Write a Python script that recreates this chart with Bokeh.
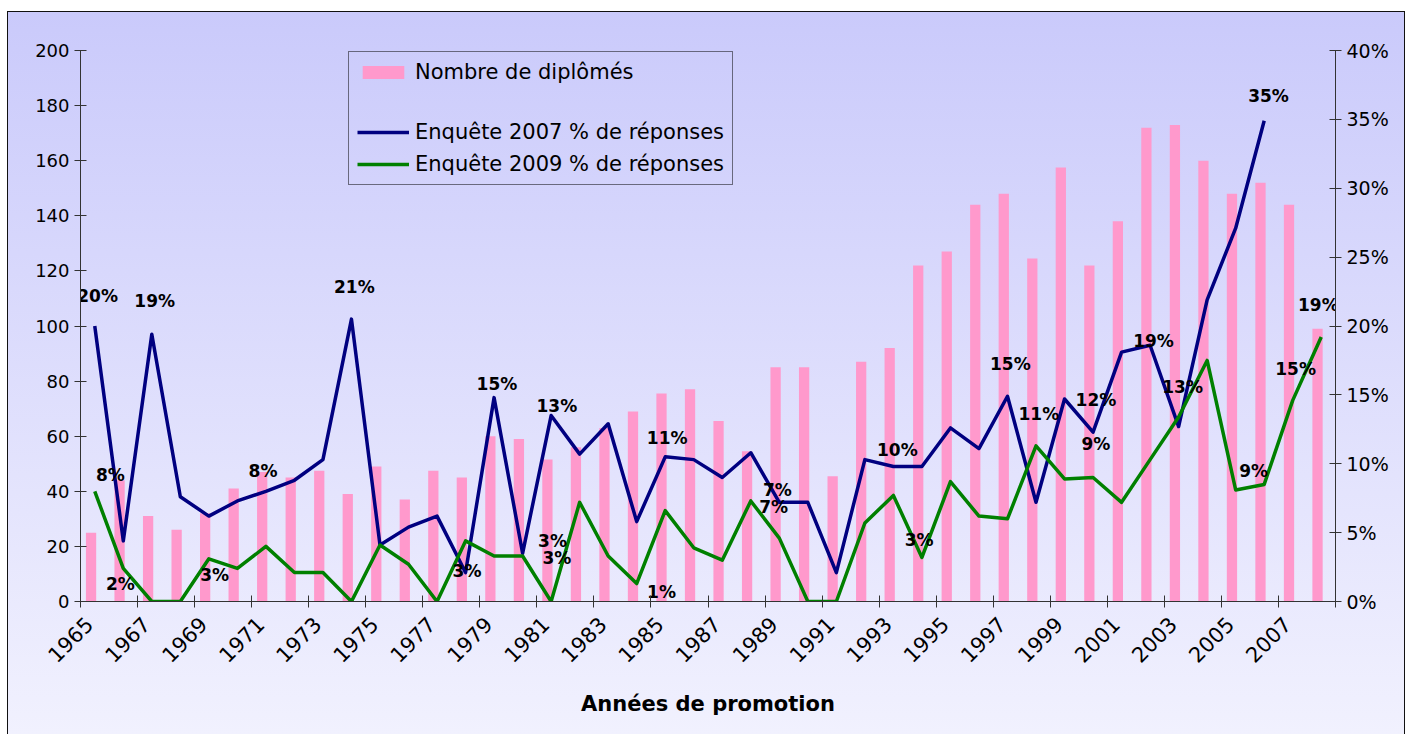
from math import pi
from bokeh.plotting import figure
from bokeh.models import (Range1d, LinearAxis, FixedTicker, PrintfTickFormatter,
                          CustomJSTickFormatter, Legend, LegendItem, ColumnDataSource)
from bokeh.transform import dodge
from bokeh.embed import file_html
from bokeh.resources import INLINE
from bokeh.core.properties import value

# ---------------- data ----------------
years = list(range(1965, 2009))
graduates = [25, 44, 31, 26, 32, 41, 47, 45, 47.5, 39, 49, 37, 47.5, 45,
             60, 59, 51.5, 56, 63, 69, 75.5, 77, 65.5, 54.5, 85, 85, 45.5, 87, 92,
             122, 127, 144, 148, 124.5, 157.5, 122, 138, 172, 173, 160, 148, 152, 144, 99]

years_2007 = list(range(1965, 2007))
survey_2007 = [20.0, 4.4, 19.4, 7.6, 6.2, 7.3, 8.0, 8.8, 10.3, 20.5,
               4.1, 5.4, 6.2, 2.1, 14.8, 3.5, 13.5, 10.7, 12.9, 5.8,
               10.5, 10.3, 9.0, 10.8, 7.2, 7.2, 2.1, 10.3, 9.8, 9.8,
               12.6, 11.1, 14.9, 7.2, 14.7, 12.3, 18.1, 18.6, 12.7, 21.9,
               27.1, 34.9]

years_2009 = list(range(1965, 2009))
survey_2009 = [8.0, 2.4, 0, 0, 3.1, 2.4, 4.0, 2.1, 2.1, 0,
               4.1, 2.7, 0, 4.4, 3.3, 3.3, 0, 7.2, 3.3, 1.3,
               6.6, 3.9, 3.0, 7.3, 4.6, 0, 0, 5.7, 7.7, 3.2,
               8.7, 6.2, 6.0, 11.3, 8.9, 9.0, 7.2, 10.3, 13.4, 17.5,
               8.1, 8.5, 14.6, 19.2]

# data labels shown on the chart (text and where they sit)
label_text = ["20%", "8%", "2%", "19%", "3%", "8%", "21%", "3%", "15%", "13%",
              "3%", "3%", "11%", "1%", "7%", "7%", "10%", "3%", "15%", "11%",
              "12%", "9%", "19%", "13%", "35%", "9%", "15%", "19%"]
label_year = [1965.1, 1965.55, 1965.9, 1967.1, 1969.2, 1970.9, 1974.1, 1978.05, 1979.1, 1981.2,
              1981.05, 1981.2, 1985.07, 1984.87, 1988.93, 1988.8, 1993.14, 1993.9, 1997.1, 1998.1,
              2000.1, 2000.1, 2002.12, 2003.14, 2006.15, 2005.63, 2007.1, 2007.9]
label_pct = [22.2, 9.2, 1.3, 21.8, 1.96, 9.5, 22.8, 2.25, 15.8, 14.2,
             4.38, 3.17, 11.86, 0.68, 8.1, 6.85, 11.0, 4.48, 17.25, 13.6,
             14.6, 11.4, 18.9, 15.6, 36.7, 9.5, 16.9, 21.5]

left_ticks = list(range(0, 201, 20))
right_ticks = list(range(0, 41, 5))
label_years = years[::2]
boundaries = [y - 0.5 for y in years[::2]] + [years[-1] + 0.5]

FONT = "DejaVu Sans"

# ---------------- figure ----------------
p = figure(width=1396, height=722, output_backend="svg", toolbar_location=None,
           x_range=Range1d(years[0] - 0.5, years[-1] + 0.5), y_range=Range1d(0, 200),
           min_border_left=72, min_border_right=69, min_border_top=38, min_border_bottom=133)
p.extra_y_ranges = {"pct": Range1d(0, 40)}
p.background_fill_alpha = 0
p.border_fill_alpha = 0
p.outline_line_color = None
p.xgrid.grid_line_color = None
p.ygrid.grid_line_color = None
p.styles = {"background": "linear-gradient(to bottom, #cacafb 0%, #f1f1fe 100%)",
            "outline": "1.5px solid #111",
            "margin-left": "8px", "margin-top": "12px"}

src_bars = ColumnDataSource(dict(year=years, grad=graduates))
src_07 = ColumnDataSource(dict(year=years_2007, pct=survey_2007))
src_09 = ColumnDataSource(dict(year=years_2009, pct=survey_2009))
src_lab = ColumnDataSource(dict(x=label_year, y=label_pct, t=label_text))

bars = p.vbar(x=dodge("year", -0.13, range=p.x_range), top="grad", width=0.36,
              source=src_bars, fill_color="#ff99cc", line_color=None)
dummy = p.line(x=[], y=[], line_alpha=0)
l07 = p.line(x="year", y="pct", source=src_07, y_range_name="pct",
             line_color="#000080", line_width=3.5, line_join="round")
l09 = p.line(x="year", y="pct", source=src_09, y_range_name="pct",
             line_color="#008000", line_width=3.5, line_join="round")

p.text(x="x", y="y", text="t", source=src_lab, y_range_name="pct",
       text_align="center", text_baseline="middle",
       text_font=value(FONT), text_font_style="bold", text_font_size="17px",
       text_color="#000000")

# ---------------- axes ----------------
AX = "#333333"
xa = p.xaxis[0]
xa.ticker = FixedTicker(ticks=[y - 0.2 for y in label_years], minor_ticks=boundaries)
xa.formatter = CustomJSTickFormatter(code="return Math.round(tick).toString();")
xa.major_tick_line_color = None
xa.major_tick_in = 0
xa.major_tick_out = 6
xa.minor_tick_line_color = AX
xa.minor_tick_in = 6
xa.minor_tick_out = 6
xa.axis_line_color = AX
xa.major_label_orientation = pi / 4
xa.major_label_standoff = 13
xa.major_label_text_font = FONT
xa.major_label_text_font_size = "21px"
xa.major_label_text_color = "#000000"
xa.axis_label = "Années de promotion"
xa.axis_label_text_font = FONT
xa.axis_label_text_font_style = "bold"
xa.axis_label_text_font_size = "21px"
xa.axis_label_text_color = "#000000"
xa.axis_label_standoff = 19

ya = p.yaxis[0]
ya.ticker = FixedTicker(ticks=left_ticks)
ya.major_tick_in = 6
ya.major_tick_out = 6
ya.minor_tick_line_color = None
ya.axis_line_color = AX
ya.major_tick_line_color = AX
ya.major_label_text_font = FONT
ya.major_label_text_font_size = "18px"
ya.major_label_text_color = "#000000"

ra = LinearAxis(y_range_name="pct", ticker=FixedTicker(ticks=right_ticks),
                formatter=PrintfTickFormatter(format="%d%%"))
ra.major_tick_in = 6
ra.major_tick_out = 6
ra.minor_tick_line_color = None
ra.axis_line_color = AX
ra.major_tick_line_color = AX
ra.major_label_text_font = FONT
ra.major_label_text_font_size = "19px"
ra.major_label_text_color = "#000000"
p.add_layout(ra, "right")

# ---------------- legend ----------------
legend = Legend(items=[
    LegendItem(label="Nombre de diplômés", renderers=[bars]),
    LegendItem(label=" ", renderers=[dummy]),
    LegendItem(label="Enquête 2007 % de réponses", renderers=[l07]),
    LegendItem(label="Enquête 2009 % de réponses", renderers=[l09]),
], location=(268, 416))
legend.label_text_font = FONT
legend.label_text_font_size = "21px"
legend.label_text_color = "#000000"
legend.glyph_width = 52
legend.glyph_height = 16
legend.label_height = 20
legend.spacing = 8
legend.padding = 8
legend.label_standoff = 6
legend.border_line_color = "#000000"
legend.border_line_width = 1
legend.background_fill_alpha = 0
p.add_layout(legend)

open("out.html", "w").write(file_html(p, INLINE))
